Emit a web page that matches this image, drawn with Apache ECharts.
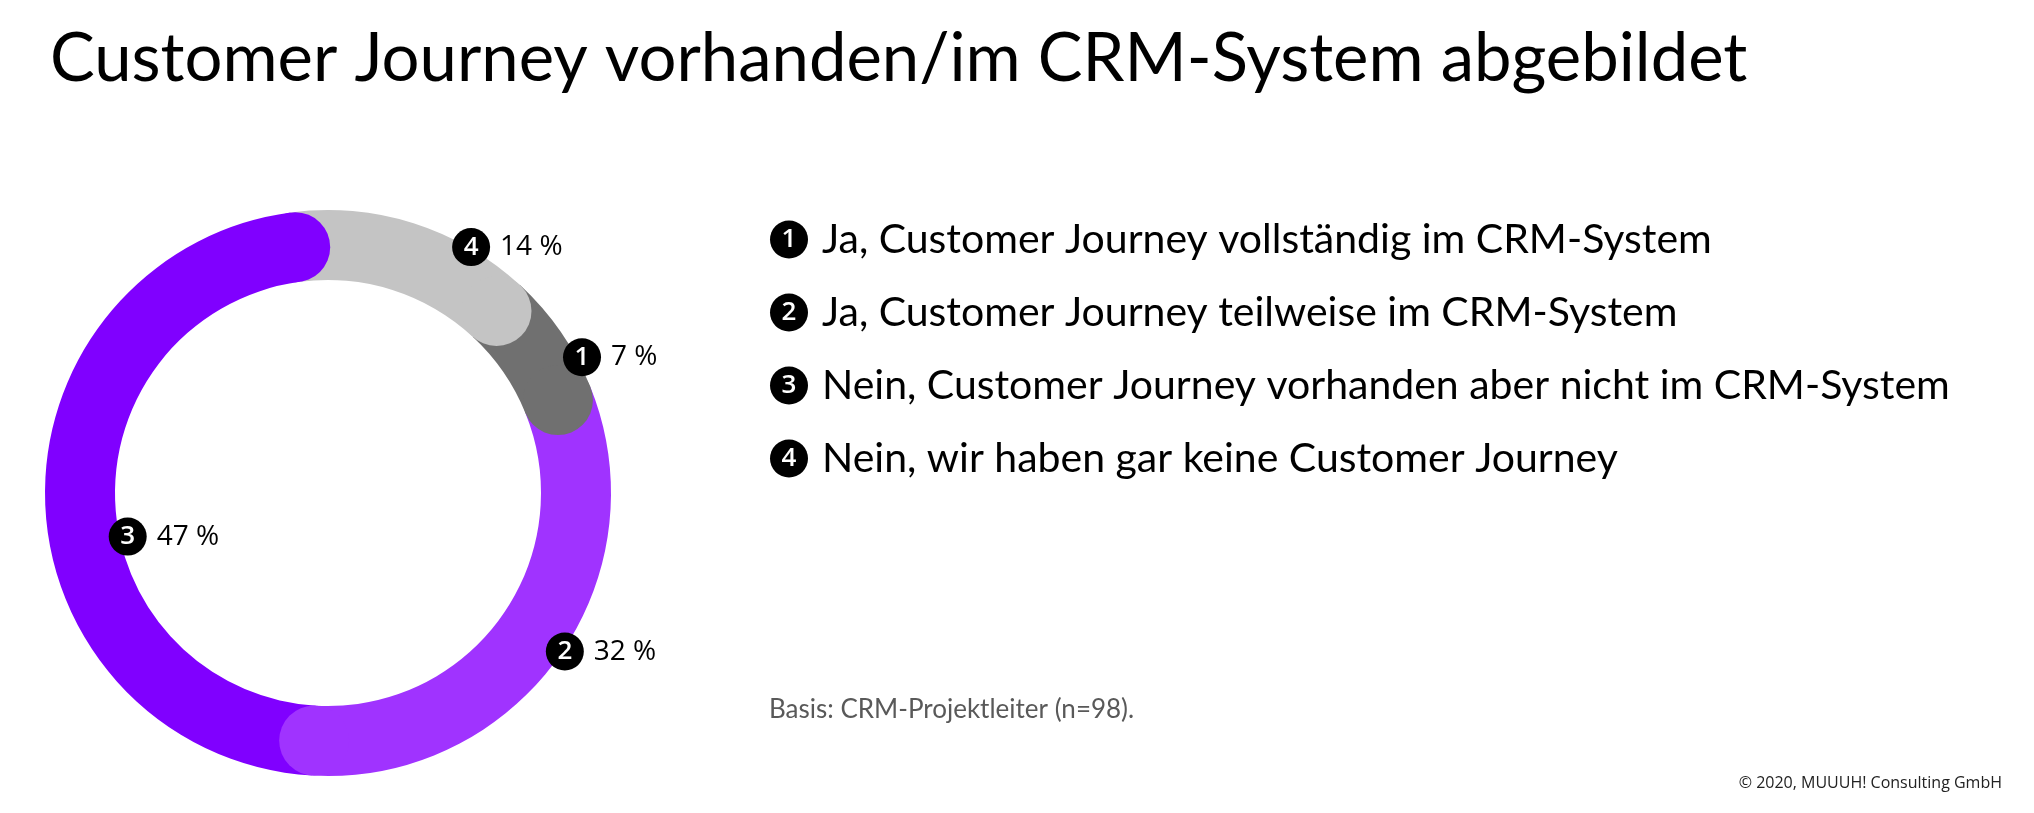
<!DOCTYPE html>
<html>
<head>
<meta charset="utf-8">
<title>Customer Journey vorhanden/im CRM-System abgebildet</title>
<script src="https://cdn.jsdelivr.net/npm/echarts@6/dist/echarts.min.js"></script>
<style>
    html, body { margin: 0; padding: 0; background: #fff; }
    #chart { width: 2034px; height: 813px; }
</style>
</head>
<body>
<div id="chart"></div>
<script>
// Antworten (Reihenfolge im Uhrzeigersinn)
var answerLabels = [
    'Ja, Customer Journey vollständig im CRM-System',
    'Ja, Customer Journey teilweise im CRM-System',
    'Nein, Customer Journey vorhanden aber nicht im CRM-System',
    'Nein, wir haben gar keine Customer Journey'
];
var badgeNumbers = ['1', '2', '3', '4'];
var shareValues = [7, 32, 47, 14]; // Prozent

// Farben + Layout
var palette = ['#707070', '#a033ff', '#8000ff', '#c4c4c4'];
var ringCenter = [328, 493],
    outerR = 283,
    innerR = 213,
    polarR = 330,
    startAngle = 47.2;
// [radius px, Winkelverschiebung in %-Einheiten] je Label
var labelPlace = [[288, 1.8], [285, -0.5], [205, -2.8], [284.5, 3.5]];

var chart = echarts.init(document.getElementById('chart'));

var total = 0, ends = [], mids = [];
shareValues.forEach(function (v) {
    mids.push(total + v / 2);
    total += v;
    ends.push(total);
});
var capR = (outerR + innerR) / 2,
    capSize = outerR - innerR;

var capData = shareValues.map(function (v, i) {
    return {
        value: [capR, ends[i] / total * 100],
        itemStyle: { color: palette[i], opacity: 1 }
    };
});
var labelData = shareValues.map(function (v, i) {
    return {
        name: badgeNumbers[i],
        value: [labelPlace[i][0], mids[i] / total * 100 + labelPlace[i][1]],
        pct: v
    };
});

chart.setOption({
    animation: false,
    backgroundColor: '#fff',
    title: [{
        text: 'Customer Journey vorhanden/im CRM-System abgebildet',
        left: 45,
        top: 21,
        textStyle: {
            fontFamily: 'Lato',
            fontSize: 67,
            fontWeight: 'normal',
            color: '#000'
        }
    }, {
        text: 'Basis: CRM-Projektleiter (n=98).',
        left: 764,
        top: 692,
        textStyle: {
            fontFamily: 'Lato',
            fontSize: 26,
            fontWeight: 'normal',
            color: '#595959'
        }
    }, {
        text: '© 2020, MUUUH! Consulting GmbH',
        right: 27,
        top: 770,
        textStyle: {
            fontFamily: 'Open Sans',
            fontSize: 16,
            fontWeight: 'normal',
            color: '#222'
        }
    }],
    legend: {
        orient: 'vertical',
        left: 760,
        top: 214,
        icon: 'none',
        itemWidth: 0,
        itemHeight: 38,
        itemGap: 32,
        selectedMode: false,
        data: answerLabels,
        formatter: function (name) {
            var i = answerLabels.indexOf(name);
            return '{b|' + badgeNumbers[i] + '}{g|}{t|' + name + '}';
        },
        textStyle: {
            rich: {
                b: {
                    width: 38,
                    height: 38,
                    lineHeight: 38,
                    borderRadius: 19,
                    backgroundColor: '#000',
                    color: '#fff',
                    align: 'center',
                    fontFamily: 'Open Sans',
                    fontSize: 26,
                    fontWeight: 600
                },
                g: { width: 14 },
                t: {
                    fontFamily: 'Lato',
                    fontSize: 41,
                    lineHeight: 41,
                    color: '#000'
                }
            }
        }
    },
    polar: {
        center: ringCenter,
        radius: polarR
    },
    angleAxis: {
        type: 'value',
        min: 0,
        max: 100,
        startAngle: startAngle,
        clockwise: true,
        show: false
    },
    radiusAxis: {
        type: 'value',
        min: 0,
        max: polarR,
        show: false
    },
    series: [{
        name: 'Anteil',
        type: 'pie',
        center: ringCenter,
        radius: [innerR, outerR],
        startAngle: startAngle,
        clockwise: true,
        silent: true,
        label: { show: false },
        labelLine: { show: false },
        data: shareValues.map(function (v, i) {
            return {
                name: answerLabels[i],
                value: v,
                itemStyle: { color: palette[i], borderWidth: 0 }
            };
        })
    }, {
        // runde Enden
        name: 'caps',
        type: 'scatter',
        coordinateSystem: 'polar',
        symbol: 'circle',
        symbolSize: capSize,
        silent: true,
        clip: false,
        itemStyle: { opacity: 1 },
        data: capData
    }, {
        name: 'badges',
        type: 'scatter',
        coordinateSystem: 'polar',
        symbol: 'circle',
        symbolSize: 38,
        silent: true,
        clip: false,
        itemStyle: { color: '#000', opacity: 1 },
        label: {
            show: true,
            position: 'inside',
            formatter: '{b}',
            color: '#fff',
            fontFamily: 'Open Sans',
            fontSize: 26,
            fontWeight: 600
        },
        data: labelData
    }, {
        name: 'values',
        type: 'scatter',
        coordinateSystem: 'polar',
        symbol: 'circle',
        symbolSize: 38,
        silent: true,
        clip: false,
        itemStyle: { color: 'rgba(0,0,0,0)', opacity: 1 },
        label: {
            show: true,
            position: 'right',
            distance: 10,
            formatter: function (p) {
                return p.data.pct + ' %';
            },
            color: '#000',
            opacity: 1,
            fontFamily: 'Open Sans',
            fontSize: 28
        },
        data: labelData
    }]
});
</script>
</body>
</html>
